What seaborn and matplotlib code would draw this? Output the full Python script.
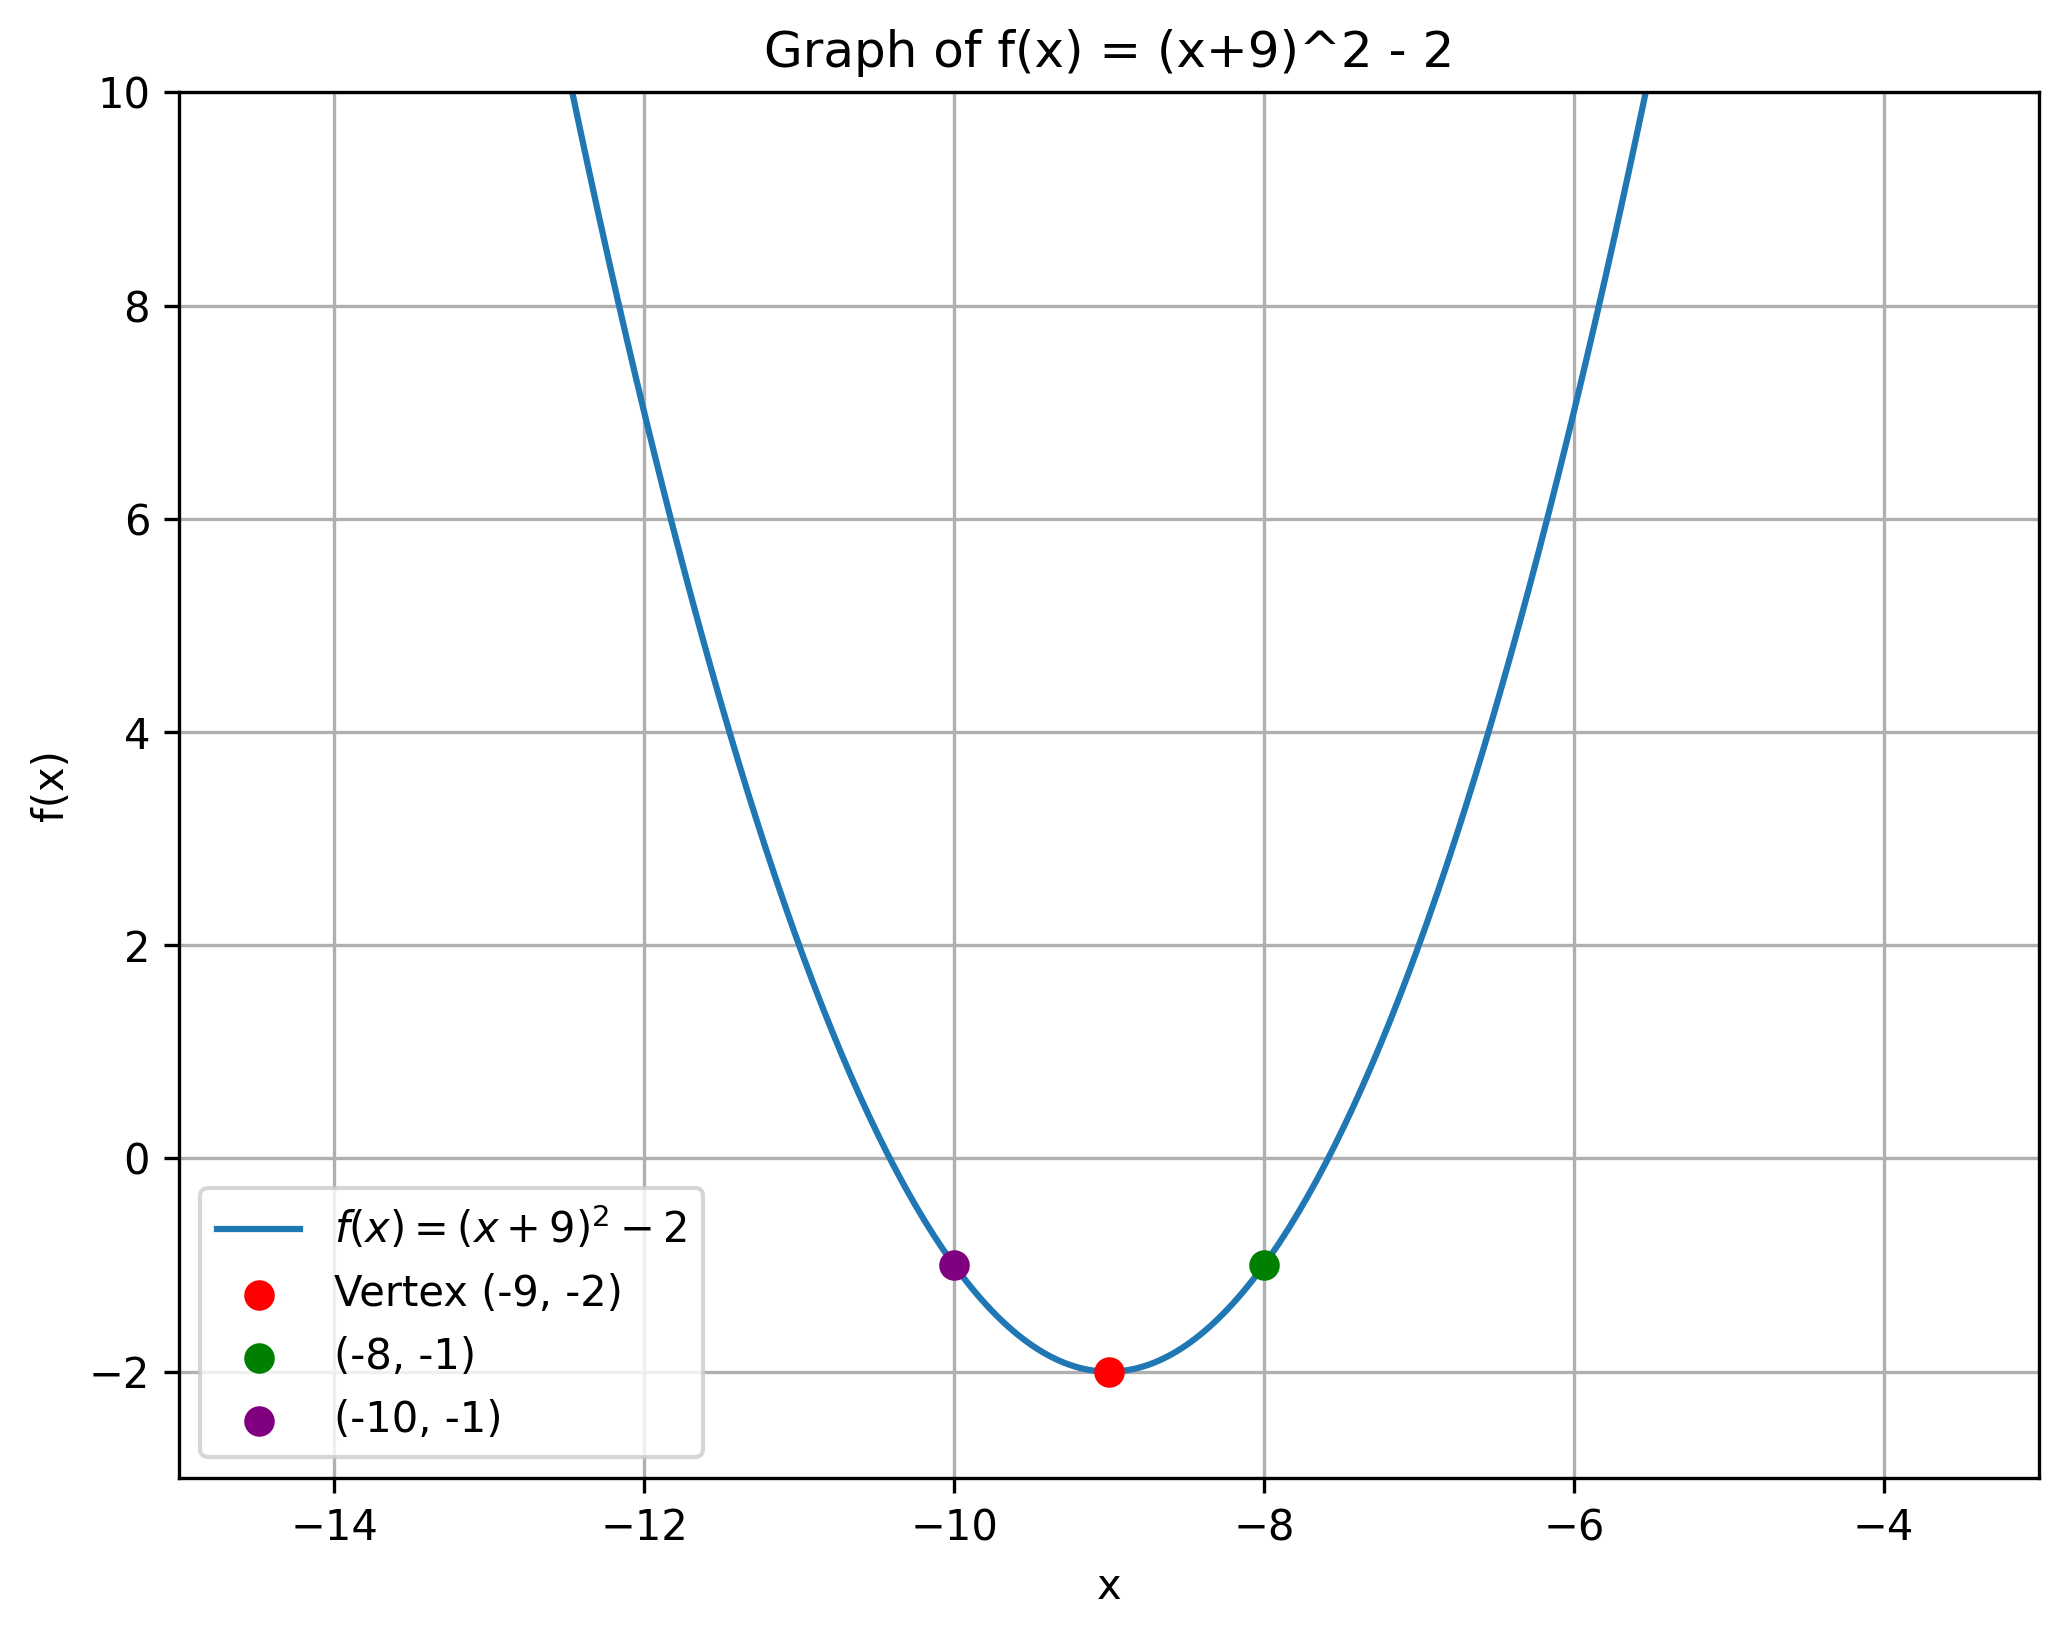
import numpy as np
import pandas as pd
import matplotlib
matplotlib.use("Agg")
import matplotlib.pyplot as plt
import seaborn as sns

# Data
h, k = -9, -2
x_vals = np.linspace(-15, -3, 400)
y_vals = (x_vals - h) ** 2 + k
point_labels = ["Vertex (-9, -2)", "(-8, -1)", "(-10, -1)"]
point_x = [-9, -8, -10]
point_y = [-2, -1, -1]
point_colors = ["red", "green", "purple"]

fig, ax = plt.subplots(figsize=(2069/300, 1638/300), dpi=300)
sns.lineplot(x=x_vals, y=y_vals, ax=ax, color="#1f77b4", linewidth=1.5,
             label=r"$f(x) = (x + 9)^2 - 2$")
for lx, ly, lc, ll in zip(point_x, point_y, point_colors, point_labels):
    ax.scatter([lx], [ly], color=lc, s=40, zorder=5, label=ll)

ax.set_xlim(-15, -3)
ax.set_ylim(-3, 10)
ax.set_xticks([-14, -12, -10, -8, -6, -4])
ax.set_yticks([-2, 0, 2, 4, 6, 8, 10])
ax.set_title("Graph of f(x) = (x+9)^2 - 2")
ax.set_xlabel("x")
ax.set_ylabel("f(x)")
ax.grid(True, color="#b0b0b0", linewidth=0.8)
ax.legend(loc="lower left")
fig.subplots_adjust(left=0.0867, right=0.9853, top=0.9436, bottom=0.0975)
fig.savefig("out.png", dpi=300)
